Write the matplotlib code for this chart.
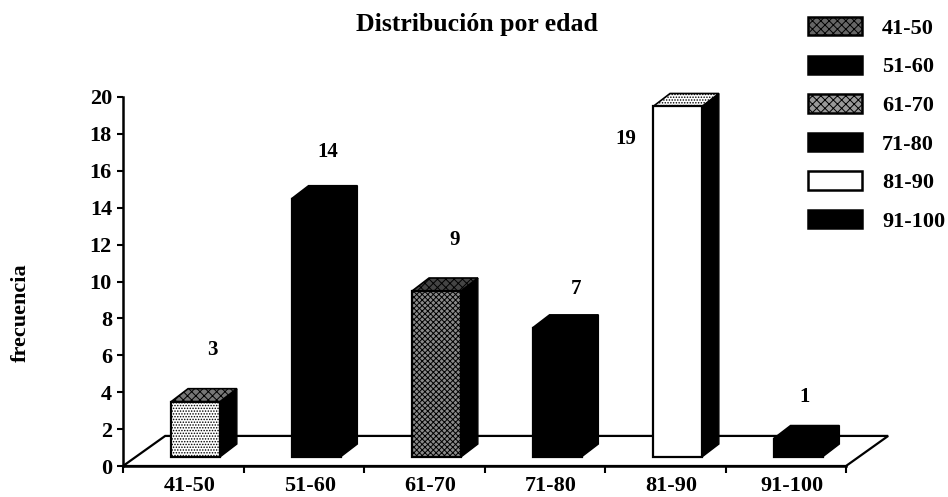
import matplotlib
matplotlib.use("Agg")
import matplotlib.pyplot as plt
from matplotlib.patches import Patch, Polygon

plt.rcParams["font.family"] = ["Liberation Serif", "DejaVu Serif"]
plt.rcParams["font.weight"] = "bold"
plt.rcParams["hatch.linewidth"] = 0.7

# Daten
grupos = ["41-50", "51-60", "61-70", "71-80", "81-90", "91-100"]
frecuencia = [3, 14, 9, 7, 19, 1]
y_ticks = [0, 2, 4, 6, 8, 10, 12, 14, 16, 18, 20]

# Stil je Balken
colores = ["white", "black", "#8a8a8a", "black", "white", "black"]
hatches = ["......", None, "xxxxxx", None, None, None]
tapas = ["#777777", "black", "#444444", "black", "white", "black"]
tapa_hatches = ["xxxx", None, "xxxx", None, "......", None]

# Legende: die gemusterten Felder sind dort dunkler als die Balken
ley_colores = ["#666666", "black", "#999999", "black", "white", "black"]
ley_hatches = ["xxxx", None, "xxxx", None, None, None]

# Position der Wertebeschriftungen (x, y in Achsenkoordinaten)
label_x = [0.74, 1.70, 2.755, 3.76, 4.17, 5.66]
label_y = [6.3, 17.0, 12.25, 9.6, 17.7, 3.74]

# Pseudo-3D-Geometrie
BAR_LEFT = 0.40
BAR_W = 0.405
BASE = 0.49
DX, DY = 0.14, 0.70
FLOOR_DX, FLOOR_DY = 0.35, 1.63

W, H = 948, 497
fig = plt.figure(figsize=(W / 100, H / 100), dpi=100)
ax = fig.add_axes([123 / W, 1 - 466 / H, (846 - 123) / W, (466 - 97) / H])
ax.set_xlim(0, 6)
ax.set_ylim(0, 20)

# Boden
ax.add_patch(Polygon([(0, 0), (FLOOR_DX, FLOOR_DY), (6 + FLOOR_DX, FLOOR_DY), (6, 0)],
                     closed=True, fc="white", ec="black", lw=1.6, clip_on=False, zorder=1))

# Balken: Seite, Deckel, Front
for i, v in enumerate(frecuencia):
    x0 = i + BAR_LEFT
    x1 = x0 + BAR_W
    top = BASE + v
    ax.add_patch(Polygon([(x1, BASE), (x1 + DX, BASE + DY), (x1 + DX, top + DY), (x1, top)],
                         closed=True, fc="black", ec="black", lw=1, clip_on=False, zorder=3))
    ax.add_patch(Polygon([(x0, top), (x0 + DX, top + DY), (x1 + DX, top + DY), (x1, top)],
                         closed=True, fc=tapas[i], ec="black", lw=1.2, hatch=tapa_hatches[i],
                         clip_on=False, zorder=3))
    ax.add_patch(Polygon([(x0, BASE), (x1, BASE), (x1, top), (x0, top)],
                         closed=True, fc=colores[i], ec="black", lw=1.6, hatch=hatches[i],
                         clip_on=False, zorder=4))
    ax.text(label_x[i], label_y[i], str(v), ha="center", va="center", fontsize=15, zorder=5)

# Achsen
ax.spines[["top", "right"]].set_visible(False)
ax.spines[["left", "bottom"]].set_linewidth(1.8)
ax.spines[["left", "bottom"]].set_zorder(2)
ax.patch.set_visible(False)
ax.set_yticks(y_ticks)
ax.set_xticks(range(7))
ax.set_xticklabels([])
ax.set_xticks([i + 0.55 for i in range(6)], labels=grupos, minor=True)
ax.tick_params(axis="x", which="major", length=5, width=1.5)
ax.tick_params(axis="x", which="minor", length=0, labelsize=16, pad=7)
ax.tick_params(axis="y", length=4, width=1.5, labelsize=16, pad=4)

fig.text(477 / W, 1 - 24 / H, "Distribución por edad", ha="center", va="center", fontsize=18.5)
fig.text(21 / W, 1 - 313 / H, "frecuencia", rotation=90, ha="center", va="center", fontsize=16)

# Legende
handles = [Patch(fc=c, ec="black", lw=1.8, hatch=h) for c, h in zip(ley_colores, ley_hatches)]
fig.legend(handles, grupos, frameon=False, fontsize=16, loc="upper left",
           bbox_to_anchor=(808 / W, 1 - 17 / H), borderpad=0, borderaxespad=0,
           handlelength=2.43, handleheight=0.9, handletextpad=0.9, labelspacing=0.75)

fig.savefig("out.png", dpi=100)
